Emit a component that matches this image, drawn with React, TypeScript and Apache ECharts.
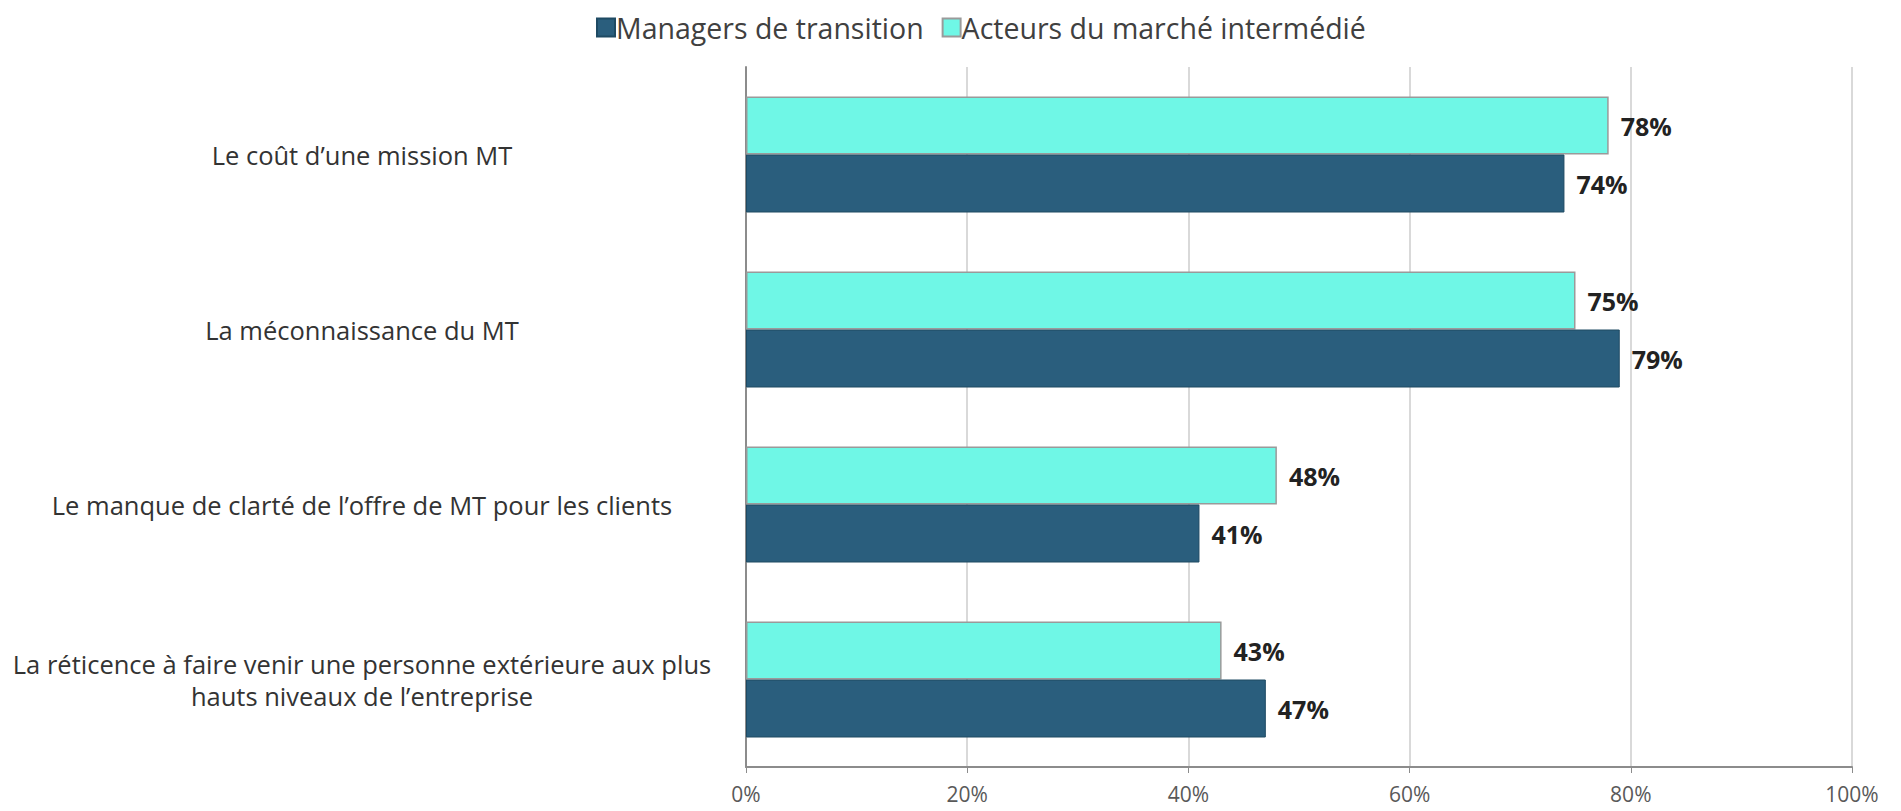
import React, { useEffect, useRef } from "react";
import * as echarts from "echarts";

const categories = [
  "Le coût d’une mission MT",
  "La méconnaissance du MT",
  "Le manque de clarté de l’offre de MT pour les clients",
  "La réticence à faire venir une personne extérieure aux plus\nhauts niveaux de l’entreprise",
];
const managers = [74, 79, 41, 47];
const acteurs = [78, 75, 48, 43];
const seriesNames = ["Managers de transition", "Acteurs du marché intermédié"];
const xTicks = [0, 20, 40, 60, 80, 100];

const FONT = "'Open Sans', 'Noto Sans', sans-serif";

export default function App() {
  const ref = useRef<HTMLDivElement>(null);
  useEffect(() => {
    if (!ref.current) return;
    const chart = echarts.init(ref.current, undefined, { renderer: "svg" });
    const cats = [...categories].reverse();
    const m = [...managers].reverse();
    const a = [...acteurs].reverse();
    const barLabel = {
      show: true,
      position: "right",
      distance: 12,
      formatter: "{c}%",
      fontSize: 25,
      fontWeight: "bold",
      color: "#222222",
      fontFamily: FONT,
    };
    chart.setOption({
      animation: false,
      backgroundColor: "#ffffff",
      textStyle: { fontFamily: FONT },
      legend: {
        top: 8,
        left: 591,
        itemWidth: 18,
        itemHeight: 18,
        itemGap: 18,
        icon: "rect",
        textStyle: { fontSize: 28.5, color: "#404040", fontFamily: FONT, padding: [0, 0, 0, -4] },
        data: seriesNames,
      },
      grid: { left: 746, right: 49, top: 67, bottom: 44, containLabel: false },
      xAxis: {
        type: "value",
        min: xTicks[0],
        max: xTicks[xTicks.length - 1],
        interval: 20,
        axisLine: { show: true, lineStyle: { color: "#8c8c8c", width: 2 } },
        axisTick: { show: true, length: 6, lineStyle: { color: "#8c8c8c" } },
        splitLine: { show: true, lineStyle: { color: "#d9d9d9", width: 2 } },
        axisLabel: {
          formatter: "{value}%",
          fontSize: 21,
          color: "#595959",
          margin: 16,
          fontFamily: FONT,
        },
      },
      yAxis: {
        type: "category",
        data: cats,
        axisLine: { show: true, lineStyle: { color: "#8c8c8c", width: 2 } },
        axisTick: { show: false },
        axisLabel: {
          interval: 0,
          align: "center",
          margin: 384,
          fontSize: 25.5,
          lineHeight: 32,
          color: "#333333",
          fontFamily: FONT,
        },
      },
      series: [
        {
          name: seriesNames[1],
          type: "bar",
          data: a,
          barWidth: 58,
          barGap: "0%",
          itemStyle: { color: "#6ff7e6", borderColor: "#9a9a9a", borderWidth: 1.5 },
          label: barLabel,
        },
        {
          name: seriesNames[0],
          type: "bar",
          data: m,
          barWidth: 58,
          barGap: "0%",
          itemStyle: { color: "#2a5e7d", borderColor: "#1e4a63", borderWidth: 1 },
          label: barLabel,
        },
      ],
    });
    return () => chart.dispose();
  }, []);
  return <div ref={ref} style={{ width: 1901, height: 811, position: "absolute", left: 0, top: 0 }} />;
}
